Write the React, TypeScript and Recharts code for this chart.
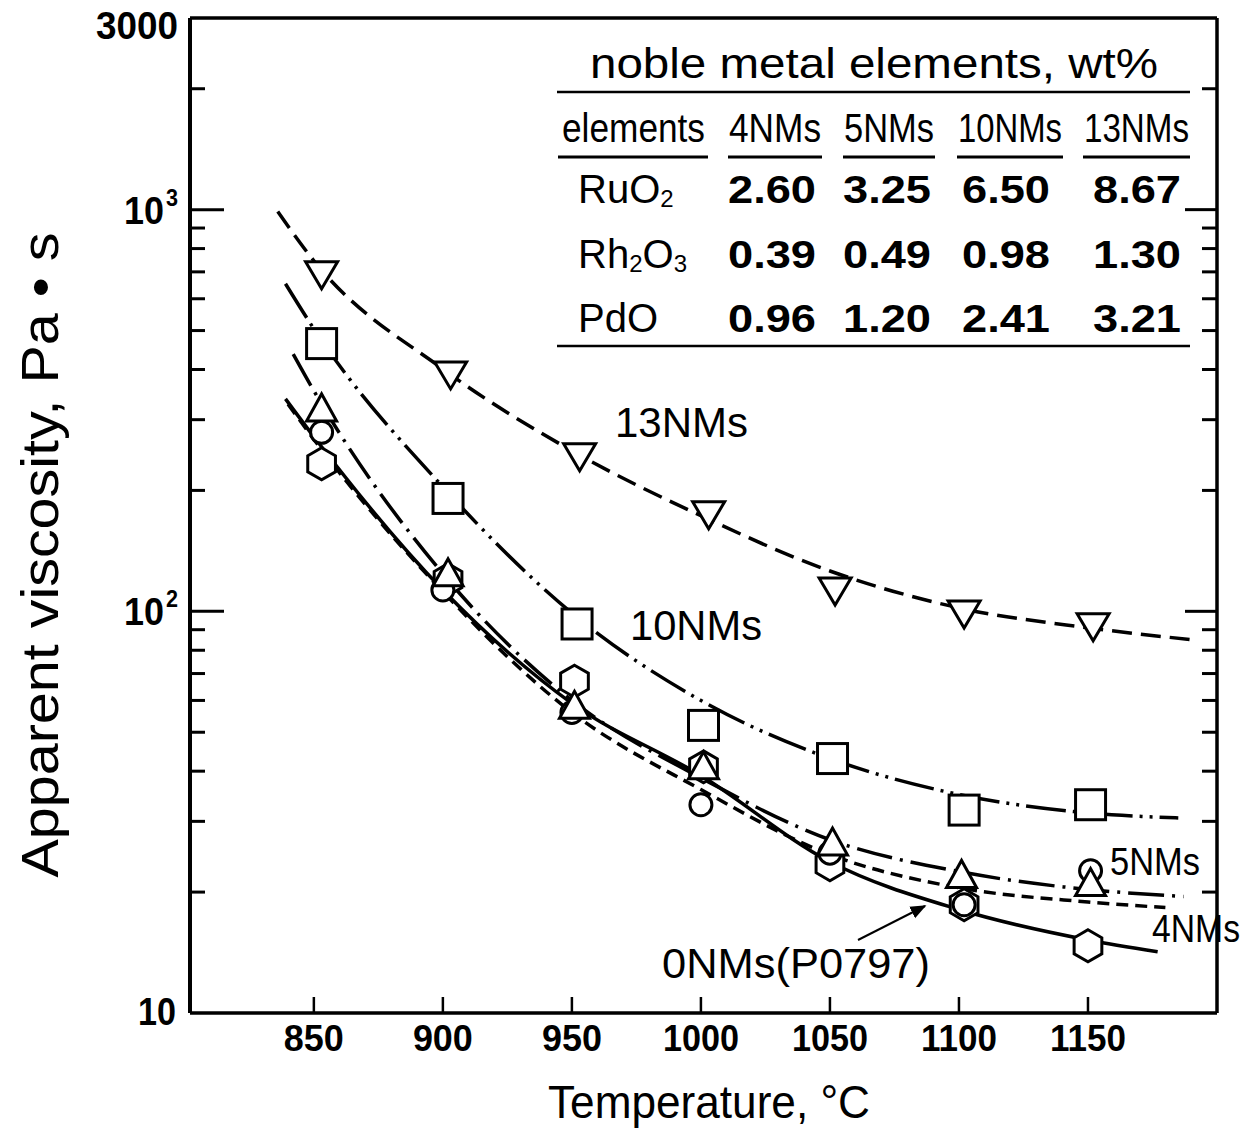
import React from "react";
import { ComposedChart, Line, Scatter, XAxis, YAxis } from "recharts";

const W = 1253;
const H = 1133;

const xTicks = [850, 900, 950, 1000, 1050, 1100, 1150];
const yTicks = [
  10, 20, 30, 40, 50, 60, 70, 80, 90, 100, 200, 300, 400, 500, 600, 700, 800,
  900, 1000, 2000, 3000,
];

// measured points (temperature, viscosity)
const t13 = [853, 903, 953, 1003, 1052, 1102, 1152];
const v13 = [692, 390, 244, 175, 113, 99, 92];
const t10 = [853, 902, 952, 1001, 1051, 1102, 1151];
const v10 = [464, 191, 93, 52, 43, 32, 33];
const t5 = [853, 902, 951, 1001, 1051, 1101, 1151];
const v5 = [319, 124, 58, 41, 26.5, 22, 21];
const t4 = [853, 900, 950, 1000, 1050, 1102, 1151];
const v4 = [279, 113, 56, 33, 25, 18.6, 22.6];
const t0 = [853, 902, 951, 1001, 1050, 1102, 1150];
const v0 = [233, 120, 67, 41, 23.4, 18.6, 14.7];

// fitted curves
const f13T = [836, 850, 900, 950, 1000, 1050, 1100, 1150, 1190];
const f13V = [989, 746, 401, 251, 173, 126, 102, 91, 85];
const f10T = [839, 850, 900, 950, 1000, 1050, 1100, 1150, 1185];
const f10V = [654, 505, 204, 99, 60, 43, 35, 31.5, 30.6];
const f5T = [842, 850, 900, 950, 1000, 1050, 1100, 1150, 1187];
const f5V = [437, 354, 124, 60, 38.5, 27, 22.5, 20.3, 19.5];
const f4T = [840, 850, 900, 950, 1000, 1050, 1100, 1150, 1180];
const f4V = [328, 268, 112, 56, 36, 24.8, 20.5, 18.9, 18.3];
const f0T = [839, 850, 900, 950, 1000, 1050, 1100, 1150, 1177];
const f0V = [338, 272, 113, 59, 39, 23.8, 18.1, 15.2, 14.2];

// table
const tableCols = ["4NMs", "5NMs", "10NMs", "13NMs"];
const tableRows = [
  { name: "RuO", sub1: "2", rest: "", sub2: "", vals: ["2.60", "3.25", "6.50", "8.67"] },
  { name: "Rh", sub1: "2", rest: "O", sub2: "3", vals: ["0.39", "0.49", "0.98", "1.30"] },
  { name: "PdO", sub1: "", rest: "", sub2: "", vals: ["0.96", "1.20", "2.41", "3.21"] },
];

const rows = (t: number[], v: number[]) => t.map((x, i) => ({ t: x, v: v[i] }));

const FONT = "'Liberation Sans', 'DejaVu Sans', sans-serif";

// condensed text: glyphs squeezed to a given width
const CT = (p: any) => {
  const { w, children, size = 40, bold = false, anchor, ...rest } = p;
  return (
    <text
      {...rest}
      textAnchor={anchor}
      textLength={w}
      lengthAdjust="spacingAndGlyphs"
      style={{ fontFamily: FONT, fontSize: size, fontWeight: bold ? 700 : 400 }}
    >
      {children}
    </text>
  );
};

const M = { stroke: "#000", strokeWidth: 3, fill: "#fff" };

const TriDown = (p: any) => (
  <path d={`M${p.cx - 16},${p.cy - 12} L${p.cx + 16},${p.cy - 12} L${p.cx},${p.cy + 15} Z`} {...M} />
);
const TriUp = (p: any) => (
  <path d={`M${p.cx - 15},${p.cy + 12} L${p.cx + 15},${p.cy + 12} L${p.cx},${p.cy - 15} Z`} {...M} />
);
const Square = (p: any) => <rect x={p.cx - 15} y={p.cy - 15} width={30} height={30} {...M} />;
const Circ = (p: any) => <circle cx={p.cx} cy={p.cy} r={11} {...M} />;
const Hex = (p: any) => {
  const r = 16;
  const pts = [-90, -30, 30, 90, 150, 210]
    .map((a) => {
      const rad = (a * Math.PI) / 180;
      return `${p.cx + r * Math.cos(rad)},${p.cy + r * Math.sin(rad)}`;
    })
    .join(" ");
  return <polygon points={pts} {...M} />;
};

const LeftTick = (p: any) => {
  const v = p.payload.value;
  const major = v === 10 || v === 100 || v === 1000;
  const len = major ? 34 : 15;
  let label: React.ReactNode = null;
  if (v === 3000)
    label = (
      <CT x={p.x - 12} y={p.y + 21} anchor="end" w={82} size={38} bold>
        3000
      </CT>
    );
  if (v === 10)
    label = (
      <CT x={p.x - 14} y={p.y + 12} anchor="end" w={38} size={38} bold>
        10
      </CT>
    );
  if (v === 100 || v === 1000)
    label = (
      <g>
        <CT x={p.x - 26} y={p.y + 14} anchor="end" w={40} size={38} bold>
          10
        </CT>
        <CT x={p.x - 24} y={p.y - 4} w={12} size={24} bold>
          {v === 100 ? "2" : "3"}
        </CT>
      </g>
    );
  return (
    <g>
      {v !== 3000 && v !== 10 && (
        <line x1={p.x} x2={p.x + len} y1={p.y} y2={p.y} stroke="#000" strokeWidth={3} />
      )}
      {label}
    </g>
  );
};

const RightTick = (p: any) => {
  const v = p.payload.value;
  if (v === 3000 || v === 10) return <g />;
  const major = v === 100 || v === 1000;
  const len = major ? 32 : 15;
  return <line x1={p.x} x2={p.x - len} y1={p.y} y2={p.y} stroke="#000" strokeWidth={3} />;
};

const BottomTick = (p: any) => {
  const s = String(p.payload.value);
  return (
    <g>
      <line x1={p.x} x2={p.x} y1={p.y} y2={p.y - 16} stroke="#000" strokeWidth={2.5} />
      <CT x={p.x} y={p.y + 38} anchor="middle" w={s.length === 3 ? 60 : 76} size={37} bold>
        {s}
      </CT>
    </g>
  );
};

const TopTick = (p: any) => (
  <line x1={p.x} x2={p.x} y1={p.y} y2={p.y + 16} stroke="#000" strokeWidth={2.5} />
);

export default function App() {
  const lineStyle = { stroke: "#000", strokeWidth: 3.5, dot: false as const, isAnimationActive: false };
  const colX = [728, 843, 957, 1083];
  const colW = [94, 92, 106, 107];
  const valX = [728, 843, 962, 1093];
  const rowY = [203, 268, 332];

  return (
    <div style={{ position: "absolute", left: 0, top: 0, width: W, height: H, background: "#fff" }}>
      <ComposedChart width={W} height={H} margin={{ top: 0, right: 0, bottom: 0, left: 0 }}>
        <XAxis
          dataKey="t"
          type="number"
          domain={[802, 1200]}
          allowDataOverflow
          ticks={xTicks}
          height={120}
          tickSize={0}
          tickMargin={0}
          tickLine={false}
          tick={BottomTick}
          axisLine={{ stroke: "#000", strokeWidth: 3.5 }}
        />
        <XAxis
          xAxisId="top"
          orientation="top"
          type="number"
          domain={[802, 1200]}
          allowDataOverflow
          ticks={xTicks}
          height={18}
          tickSize={0}
          tickMargin={0}
          tickLine={false}
          tick={TopTick}
          axisLine={{ stroke: "#000", strokeWidth: 3.5 }}
        />
        <YAxis
          dataKey="v"
          scale="log"
          type="number"
          domain={[10, 3000]}
          allowDataOverflow
          ticks={yTicks}
          interval={0}
          width={190}
          tickSize={0}
          tickMargin={0}
          tickLine={false}
          tick={LeftTick}
          axisLine={{ stroke: "#000", strokeWidth: 4 }}
        />
        <YAxis
          yAxisId="right"
          orientation="right"
          scale="log"
          type="number"
          domain={[10, 3000]}
          allowDataOverflow
          ticks={yTicks}
          interval={0}
          width={36}
          tickSize={0}
          tickMargin={0}
          tickLine={false}
          tick={RightTick}
          axisLine={{ stroke: "#000", strokeWidth: 3.5 }}
        />

        <Line data={rows(f13T, f13V)} dataKey="v" type="monotone" {...lineStyle} strokeDasharray="20 9" />
        <Line data={rows(f10T, f10V)} dataKey="v" type="monotone" {...lineStyle} strokeDasharray="40 7 3 7 3 7" />
        <Line data={rows(f5T, f5V)} dataKey="v" type="monotone" {...lineStyle} strokeDasharray="36 8 3 8" />
        <Line data={rows(f4T, f4V)} dataKey="v" type="monotone" {...lineStyle} strokeDasharray="12 7" />
        <Line data={rows(f0T, f0V)} dataKey="v" type="monotone" {...lineStyle} />

        <Scatter data={rows(t0, v0)} dataKey="v" shape={Hex} isAnimationActive={false} />
        <Scatter data={rows(t4, v4)} dataKey="v" shape={Circ} isAnimationActive={false} />
        <Scatter data={rows(t5, v5)} dataKey="v" shape={TriUp} isAnimationActive={false} />
        <Scatter data={rows(t10, v10)} dataKey="v" shape={Square} isAnimationActive={false} />
        <Scatter data={rows(t13, v13)} dataKey="v" shape={TriDown} isAnimationActive={false} />
      </ComposedChart>

      <svg
        width={W}
        height={H}
        style={{ position: "absolute", left: 0, top: 0, pointerEvents: "none" }}
      >
        {/* axis titles */}
        <CT x={548} y={1118} w={322} size={46}>
          Temperature, °C
        </CT>
        <g transform="translate(58,555) rotate(-90)">
          <CT x={0} y={0} anchor="middle" w={645} size={52}>
            Apparent viscosity, Pa • s
          </CT>
        </g>

        {/* composition table */}
        <CT x={590} y={78} w={568} size={42}>
          noble metal elements, wt%
        </CT>
        <line x1={557} x2={1190} y1={92} y2={92} stroke="#000" strokeWidth={2.5} />
        <CT x={562} y={142} w={143} size={40}>
          elements
        </CT>
        <line x1={558} x2={708} y1={157} y2={157} stroke="#000" strokeWidth={3} />
        {tableCols.map((c, i) => (
          <g key={c}>
            <CT x={colX[i] + 1} y={142} w={colW[i] - 2} size={40}>
              {c}
            </CT>
            <line x1={colX[i]} x2={colX[i] + colW[i]} y1={157} y2={157} stroke="#000" strokeWidth={3} />
          </g>
        ))}
        {tableRows.map((r, j) => (
          <g key={r.name}>
            <text x={578} y={rowY[j]} style={{ fontFamily: FONT, fontSize: 40 }}>
              {r.name}
              {r.sub1 && (
                <tspan fontSize={24} dy={4}>
                  {r.sub1}
                </tspan>
              )}
              {r.rest && <tspan dy={-4}>{r.rest}</tspan>}
              {r.sub2 && (
                <tspan fontSize={24} dy={4}>
                  {r.sub2}
                </tspan>
              )}
            </text>
            {r.vals.map((v, i) => (
              <CT key={i} x={valX[i]} y={rowY[j]} w={88} size={38} bold>
                {v}
              </CT>
            ))}
          </g>
        ))}
        <line x1={557} x2={1190} y1={346} y2={346} stroke="#000" strokeWidth={2.5} />

        {/* curve labels */}
        <CT x={615} y={437} w={133} size={42}>
          13NMs
        </CT>
        <CT x={630} y={640} w={132} size={42}>
          10NMs
        </CT>
        <CT x={1110} y={875} w={90} size={38}>
          5NMs
        </CT>
        <CT x={1152} y={942} w={88} size={38}>
          4NMs
        </CT>
        <CT x={662} y={978} w={268} size={42}>
          0NMs(P0797)
        </CT>
        <defs>
          <marker id="ah" viewBox="0 0 10 10" refX="9" refY="5" markerWidth="8" markerHeight="8" orient="auto">
            <path d="M0,1 L10,5 L0,9 Z" fill="#000" />
          </marker>
        </defs>
        <line x1={858} y1={940} x2={925} y2={906} stroke="#000" strokeWidth={2} markerEnd="url(#ah)" />
      </svg>
    </div>
  );
}
